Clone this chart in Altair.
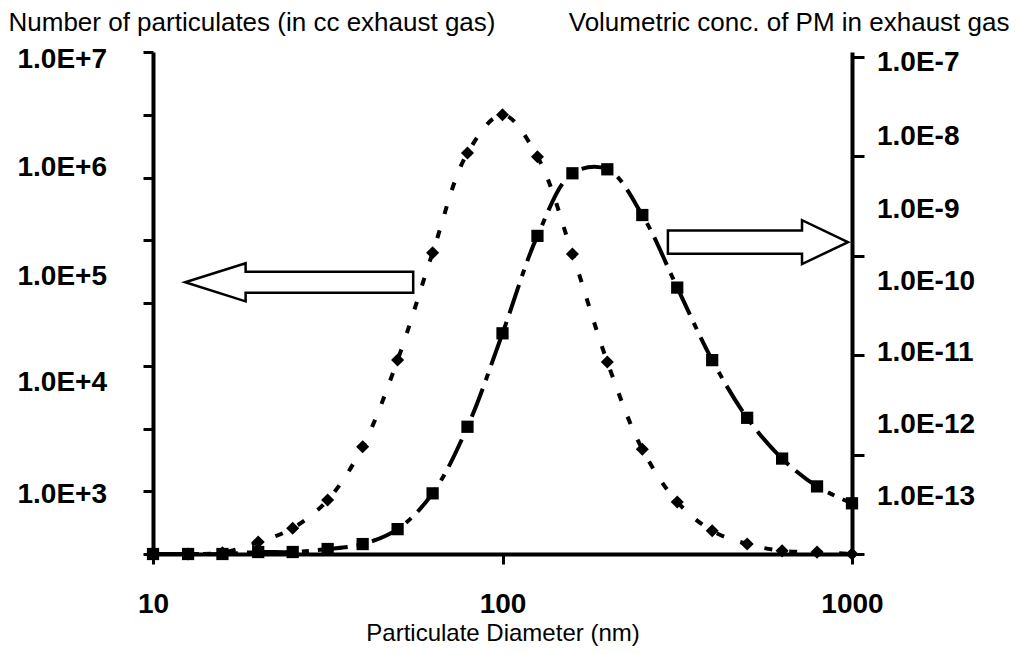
import altair as alt
import pandas as pd

# ---- data ----
diameter_nm = [10, 12.6, 15.8, 20, 25.1, 31.6, 39.8, 50.1, 63.1, 79.4, 100,
               125.9, 158.5, 199.5, 251.2, 316.2, 398.1, 501.2, 631, 794.3, 1000]
# left series (number of particulates), in left-axis tick units
number_conc = [0, 0, 0.02, 0.19, 0.41, 0.86, 1.71, 3.09, 4.80, 6.39, 7.00,
               6.33, 4.78, 3.06, 1.67, 0.83, 0.37, 0.16, 0.05, 0.03, 0]
# right series (volumetric concentration), in right-axis tick units
vol_conc = [0, 0, 0, 0.02, 0.02, 0.05, 0.10, 0.25, 0.61, 1.28, 2.22,
            3.20, 3.83, 3.87, 3.41, 2.68, 1.95, 1.37, 0.96, 0.68, 0.51]

x_ticks = [10, 100, 1000]
left_ticks = [0, 1, 2, 3, 4, 5, 6, 7, 8]
right_ticks = [0, 1, 2, 3, 4, 5]
left_labels = ["1.0E+7", "1.0E+6", "1.0E+5", "1.0E+4", "1.0E+3"]
left_label_pos = [7.87, 6.15, 4.41, 2.73, 0.94]
right_labels = ["1.0E-7", "1.0E-8", "1.0E-9", "1.0E-10", "1.0E-11", "1.0E-12", "1.0E-13"]
right_label_pos = [4.94, 4.19, 3.46, 2.74, 2.02, 1.30, 0.57]

# annotation arrows (centre in data units)
arrow_d = [26.2, 538]
arrow_n = [4.33, 4.97]

FONT = "Liberation Sans"
W, H = 699, 502

df = pd.DataFrame({"d": diameter_nm, "n": number_conc, "v": vol_conc})
left_lab_df = pd.DataFrame({"n": left_label_pos, "label": left_labels})
right_lab_df = pd.DataFrame({"v": right_label_pos, "label": right_labels})
arrow_left_df = pd.DataFrame({"d": [arrow_d[0]], "n": [arrow_n[0]]})
arrow_right_df = pd.DataFrame({"d": [arrow_d[1]], "n": [arrow_n[1]]})

x_enc = alt.X(
    "d:Q",
    scale=alt.Scale(type="log", domain=[10, 1000], nice=False),
    axis=alt.Axis(
        values=x_ticks, format="d", grid=False,
        title="Particulate Diameter (nm)",
        titleFont=FONT, titleFontSize=24, titleFontWeight="normal", titleColor="black",
        titleBaseline="middle", titleY=79,
        labelFont=FONT, labelFontSize=28, labelFontWeight="bold", labelColor="black",
        labelPadding=26, labelFlush=False,
        domainColor="black", domainWidth=4, tickColor="black", tickWidth=3, tickSize=10,
    ),
)

y_left = alt.Y(
    "n:Q",
    scale=alt.Scale(domain=[0, 8], nice=False, zero=True),
    axis=alt.Axis(
        orient="left", values=left_ticks, labels=False, grid=False,
        domainColor="black", domainWidth=4, tickColor="black", tickWidth=3, tickSize=10,
        title="Number of particulates (in cc exhaust gas)",
        titleAngle=0, titleAlign="left", titleBaseline="middle", titleX=-145, titleY=-30,
        titleFont=FONT, titleFontSize=26, titleFontWeight="normal", titleColor="black",
    ),
)

y_right = alt.Y(
    "v:Q",
    scale=alt.Scale(domain=[0, 5.05], nice=False, zero=True),
    axis=alt.Axis(
        orient="right", values=right_ticks, labels=False, grid=False,
        domainColor="black", domainWidth=4, tickColor="black", tickWidth=3, tickSize=12,
        title="Volumetric conc. of PM in exhaust gas",
        titleAngle=0, titleAlign="right", titleBaseline="middle", titleX=157, titleY=-30,
        titleFont=FONT, titleFontSize=26, titleFontWeight="normal", titleColor="black",
    ),
)

line_left = alt.Chart(df).mark_line(
    interpolate="catmull-rom", color="black", strokeWidth=4, strokeDash=[8, 17], clip=True
).encode(x=x_enc, y=y_left)
pts_left = alt.Chart(df).mark_point(
    shape="diamond", size=170, filled=True, color="black", opacity=1
).encode(x=x_enc, y=y_left)
lab_left = alt.Chart(left_lab_df).mark_text(
    align="right", baseline="middle", font=FONT, fontSize=28, fontWeight="bold", color="black"
).encode(x=alt.value(-46), y=y_left, text="label:N")

arrow_left_path = "M -1 0 L -0.47 -0.167 L -0.47 -0.092 L 1 -0.092 L 1 0.092 L -0.47 0.092 L -0.47 0.167 Z"
arrow_right_path = "M 1 0 L 0.49 -0.244 L 0.49 -0.128 L -1 -0.128 L -1 0.128 L 0.49 0.128 L 0.49 0.244 Z"
arr_left = alt.Chart(arrow_left_df).mark_point(
    shape=arrow_left_path, size=228 * 228, filled=True, fill="white", stroke="black",
    strokeWidth=2.5, opacity=1, strokeJoin="miter"
).encode(x=x_enc, y=y_left)
arr_right = alt.Chart(arrow_right_df).mark_point(
    shape=arrow_right_path, size=180 * 180, filled=True, fill="white", stroke="black",
    strokeWidth=2.5, opacity=1, strokeJoin="miter"
).encode(x=x_enc, y=y_left)

left_layer = alt.layer(arr_left, arr_right, line_left, pts_left, lab_left)

line_right = alt.Chart(df).mark_line(
    interpolate="catmull-rom", color="black", strokeWidth=4, strokeDash=[30, 9, 7, 9], clip=True
).encode(x=x_enc, y=y_right)
pts_right = alt.Chart(df).mark_point(
    shape="square", size=150, filled=True, color="black", opacity=1
).encode(x=x_enc, y=y_right)
lab_right = alt.Chart(right_lab_df).mark_text(
    align="left", baseline="middle", font=FONT, fontSize=28, fontWeight="bold", color="black"
).encode(x=alt.value(W + 25), y=y_right, text="label:N")

right_layer = alt.layer(line_right, pts_right, lab_right)

chart = (
    alt.layer(left_layer, right_layer)
    .resolve_scale(y="independent")
    .properties(
        width=W, height=H,
        autosize=alt.AutoSizeParams(type="none"),
        padding={"left": 145, "top": 44, "right": 159, "bottom": 92},
        background="white",
    )
    .configure_view(stroke=None)
)

chart.save("out.html", embed_options={"renderer": "svg", "actions": False})
